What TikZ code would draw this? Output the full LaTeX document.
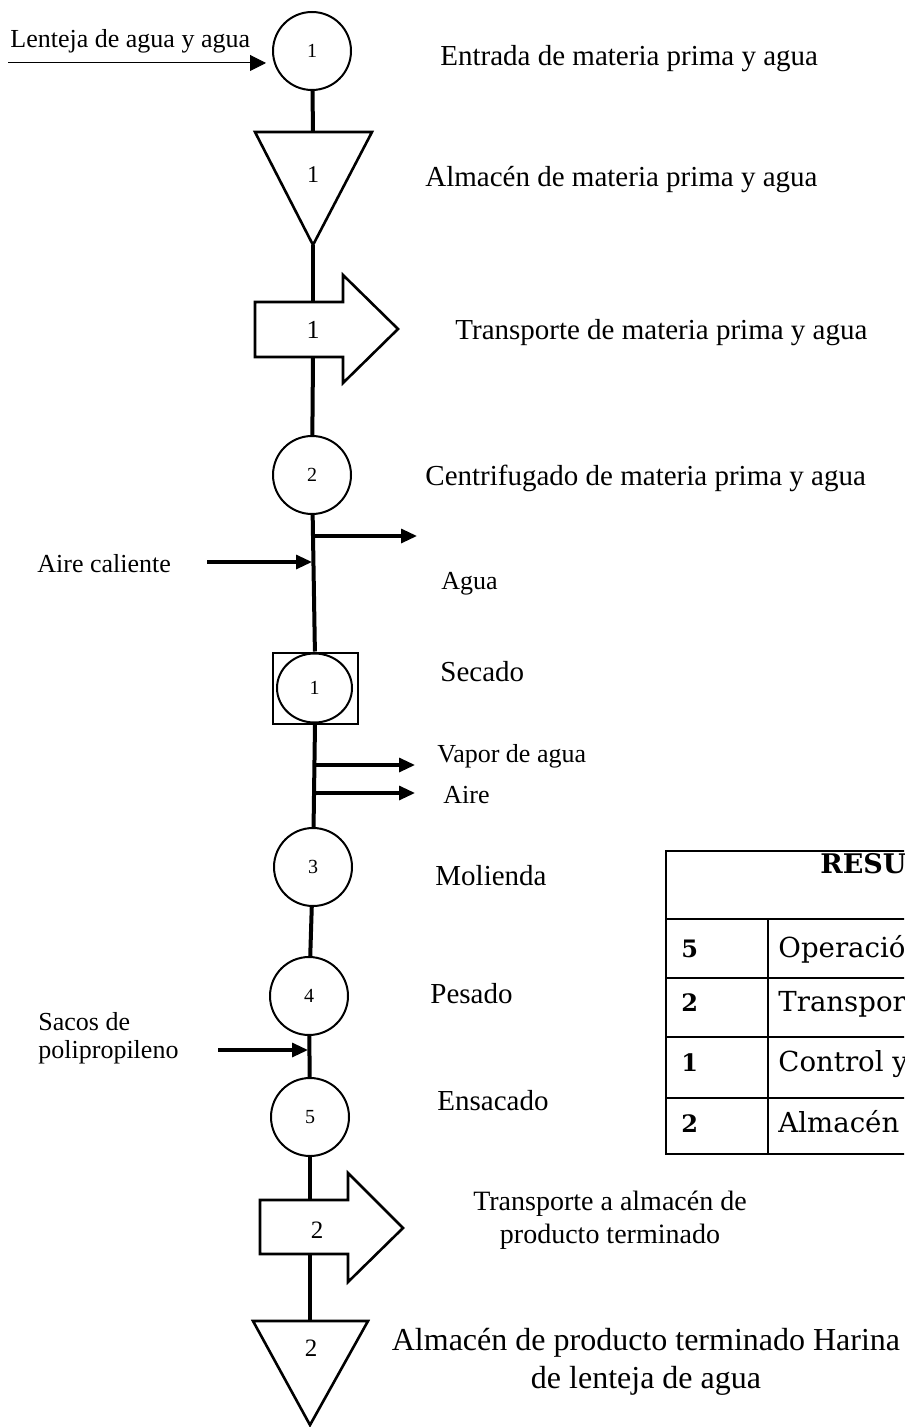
\documentclass[tikz,border=0pt]{standalone}
\usepackage{fontspec}
\setmainfont{Liberation Serif}
\newfontfamily\tablefont{DejaVu Serif}
\usetikzlibrary{arrows.meta, shapes.geometric}

\begin{document}
\begin{tikzpicture}[x=0.5pt, y=-0.5pt,
    flow/.style={line width=2pt},
    side/.style={line width=1.6pt, -{Triangle[length=8pt, width=7pt]}},
    feed/.style={line width=0.5pt, -{Triangle[length=8pt, width=8pt]}},
    op/.style={draw, circle, line width=1pt, minimum size=39pt, inner sep=0pt, font=\fontsize{10}{12}\selectfont},
    symbol/.style={draw, line width=1.3pt, line join=miter},
    num/.style={inner sep=0pt, font=\fontsize{12.5}{15}\selectfont},
    lbl/.style={anchor=base west, inner sep=0pt, font=\fontsize{14.5}{17}\selectfont},
    sml/.style={anchor=base west, inner sep=0pt, align=left, font=\fontsize{13}{14}\selectfont},
    tbl/.style={anchor=base west, inner sep=0pt, font=\tablefont\fontsize{13.8}{16}\selectfont}]
\useasboundingbox (0, 0) rectangle (904, 1427);
\clip (0, 0) rectangle (904, 1427);

% symbols of the process
\node[op] (op1) at (312, 51) {1};
\draw[symbol] (255, 132) -- (372, 132) -- (313, 245) coordinate (st1b) -- cycle;
\coordinate (st1t) at (313, 132);
\node[num, font=\fontsize{12}{14}\selectfont] (st1) at (313, 175) {1};
\draw[symbol] (255, 302) -- (343, 302) -- (343, 275) -- (398, 329) -- (343, 383) -- (343, 357) -- (255, 357) -- cycle;
\coordinate (tr1t) at (313, 302);
\coordinate (tr1b) at (313, 357);
\node[num, font=\fontsize{13}{15}\selectfont] (tr1) at (313, 330) {1};
\node[op] (op2) at (312, 475) {2};
\node[draw, line width=1pt, minimum width=42.5pt, minimum height=35.5pt, inner sep=0pt] (dry) at (315.5, 688) {};
\node[draw, ellipse, line width=1pt, minimum width=37.5pt, minimum height=34.5pt, inner sep=0pt, font=\fontsize{10}{12}\selectfont] (dryin) at (314.5, 688) {1};
\node[op] (op3) at (313, 867) {3};
\node[op] (op4) at (309, 996) {4};
\node[op] (op5) at (310, 1117) {5};
\draw[symbol] (260, 1200) -- (348, 1200) -- (348, 1173) -- (403, 1228) -- (348, 1282) -- (348, 1254) -- (260, 1254) -- cycle;
\coordinate (tr2t) at (310, 1200);
\coordinate (tr2b) at (310, 1254);
\node[num] (tr2) at (317, 1230) {2};
\draw[symbol] (253, 1321) -- (368, 1321) -- (310, 1425) -- cycle;
\coordinate (st2t) at (310, 1321);
\node[num] (st2) at (311, 1348) {2};

% main line
\draw[flow] (op1) -- (st1t);
\draw[flow] (st1b) -- (tr1t);
\draw[flow] (tr1b) -- (op2);
\draw[flow] (op2) -- (dry);
\draw[flow] (dry) -- (op3);
\draw[flow] (op3) -- (op4);
\draw[flow] (op4) -- (op5);
\draw[flow] (op5) -- (tr2t);
\draw[flow] (tr2b) -- (st2t);

% inputs and outputs
\coordinate (feed) at (8, 63);
\draw[feed, shorten >=3pt] (feed) -- (feed -| op1.west);
\coordinate (agua) at (313, 536);
\coordinate (aguae) at (417, 536);
\draw[side] (agua) -- (aguae);
\coordinate (cal) at (207, 562);
\coordinate (calj) at (312, 562);
\draw[side] (cal) -- (calj);
\coordinate (vap) at (313, 765);
\coordinate (vape) at (415, 765);
\draw[side] (vap) -- (vape);
\coordinate (air) at (313, 793);
\coordinate (aire) at (415, 793);
\draw[side] (air) -- (aire);
\coordinate (sac) at (218, 1050);
\coordinate (sacj) at (308, 1050);
\draw[side] (sac) -- (sacj);

% labels
\node[sml] (lfeed) at (10, 48) {Lenteja de agua y agua};
\node[lbl] (lop1) at (440, 66) {Entrada de materia prima y agua};
\node[lbl] (lst1) at (425, 187) {Almacén de materia prima y agua};
\node[lbl] (ltr1) at (455, 340) {Transporte de materia prima y agua};
\node[lbl] (lop2) at (425, 485) {Centrifugado de materia prima y agua};
\node[sml] (lagua) at (441, 589) {Agua};
\node[sml] (lcal) at (37, 572) {Aire caliente};
\node[lbl] (ldry) at (440, 681) {Secado};
\node[sml] (lvap) at (437, 762) {Vapor de agua};
\node[sml] (lair) at (443, 803) {Aire};
\node[lbl] (lop3) at (435, 885) {Molienda};
\node[lbl] (lop4) at (430, 1003) {Pesado};
\node[lbl] (lop5) at (437, 1110) {Ensacado};
\node[sml] (lsac) at (38, 1058) {Sacos de\\polipropileno};
\node[anchor=base, inner sep=0pt, align=center, font=\fontsize{14}{16.5}\selectfont] (ltr2) at (610, 1243) {Transporte a almacén de\\producto terminado};
\node[anchor=base, inner sep=0pt, align=center, font=\fontsize{16}{19}\selectfont] (lst2) at (646, 1388) {Almacén de producto terminado Harina\\de lenteja de agua};

% summary table
\draw[line width=1.3pt] (666, 851) rectangle (1000, 1154);
\foreach \y in {919, 978, 1037, 1098}
  \draw[line width=1.3pt] (666, \y) -- (1000, \y);
\draw[line width=1.3pt] (768, 919) -- (768, 1154);
\node[tbl, font=\tablefont\bfseries\fontsize{13.5}{16}\selectfont] (resumen) at (820, 873) {RESUMEN};
\foreach \n/\t/\y in {5/Operación/957, 2/Transporte/1011, 1/Control y/1071, 2/Almacén/1132} {
  \node[tbl, font=\tablefont\bfseries\fontsize{12}{14}\selectfont] at (681, \y) {\n};
  \node[tbl] at (778, \y) {\t};
}
\end{tikzpicture}
\end{document}
